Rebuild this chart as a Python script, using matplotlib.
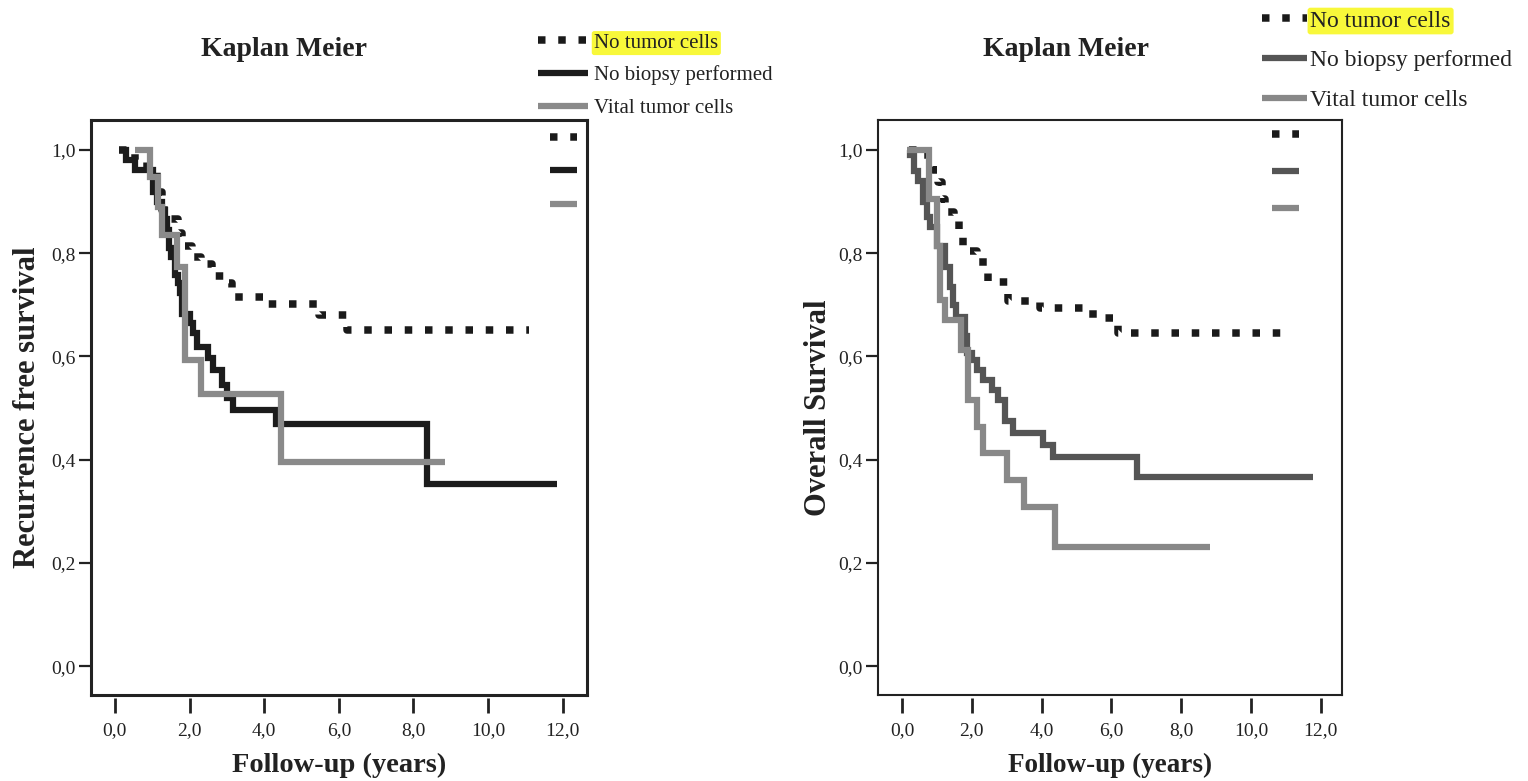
import matplotlib
matplotlib.use("Agg")
import matplotlib.pyplot as plt
from matplotlib.lines import Line2D

plt.rcParams["font.family"] = ["Liberation Serif", "DejaVu Serif"]

group_names = ["No tumor cells", "No biopsy performed", "Vital tumor cells"]

x_ticks = [0, 2, 4, 6, 8, 10, 12]
x_tick_labels = ["0,0", "2,0", "4,0", "6,0", "8,0", "10,0", "12,0"]
y_ticks = [0.0, 0.2, 0.4, 0.6, 0.8, 1.0]
y_tick_labels = ["0,0", "0,2", "0,4", "0,6", "0,8", "1,0"]

# recurrence free survival, step times (years) and survival fractions
rfs_no_tumor_t = [0.1, 0.55, 0.85, 1.12, 1.25, 1.47, 1.70, 1.80, 2.06, 2.32, 2.59, 2.99,
                  3.13, 4.02, 5.48, 6.21, 11.1]
rfs_no_tumor_s = [1.0, 0.98, 0.961, 0.919, 0.884, 0.866, 0.839, 0.814, 0.793, 0.779, 0.756,
                  0.742, 0.716, 0.701, 0.68, 0.652, 0.652]
rfs_no_biopsy_t = [0.1, 0.31, 0.53, 1.03, 1.12, 1.25, 1.34, 1.40, 1.45, 1.50, 1.60, 1.70,
                   1.75, 1.79, 2.0, 2.1, 2.19, 2.5, 2.64, 2.86, 3.0, 3.17, 4.31, 8.35, 11.84]
rfs_no_biopsy_s = [1.0, 0.98, 0.961, 0.919, 0.90, 0.884, 0.866, 0.845, 0.81, 0.793, 0.758,
                   0.742, 0.722, 0.683, 0.664, 0.645, 0.619, 0.596, 0.574, 0.545, 0.519,
                   0.497, 0.470, 0.353, 0.353]
rfs_vital_t = [0.55, 0.94, 1.16, 1.25, 1.67, 1.88, 2.32, 4.45, 8.85]
rfs_vital_s = [1.0, 0.948, 0.890, 0.835, 0.774, 0.593, 0.528, 0.396, 0.396]

# overall survival
os_no_tumor_t = [0.2, 0.55, 0.9, 1.04, 1.14, 1.23, 1.5, 1.64, 1.76, 2.14, 2.33, 2.47, 3.05,
                 3.95, 5.48, 6.2, 11.05]
os_no_tumor_s = [1.0, 0.99, 0.962, 0.938, 0.905, 0.88, 0.864, 0.835, 0.805, 0.793, 0.77,
                 0.744, 0.707, 0.693, 0.674, 0.645, 0.645]
os_no_biopsy_t = [0.18, 0.23, 0.33, 0.47, 0.61, 0.71, 0.80, 0.99, 1.23, 1.38, 1.47, 1.55,
                  1.80, 1.85, 2.0, 2.14, 2.33, 2.57, 2.76, 2.95, 3.19, 4.05, 4.34, 6.72, 11.79]
os_no_biopsy_s = [1.0, 0.99, 0.96, 0.94, 0.90, 0.87, 0.85, 0.813, 0.774, 0.735, 0.70, 0.677,
                  0.639, 0.606, 0.593, 0.574, 0.555, 0.535, 0.516, 0.474, 0.451, 0.428,
                  0.405, 0.366, 0.366]
os_vital_t = [0.15, 0.78, 1.0, 1.1, 1.23, 1.68, 1.90, 2.16, 2.31, 3.02, 3.50, 4.38, 8.83]
os_vital_s = [1.0, 0.905, 0.813, 0.709, 0.671, 0.612, 0.516, 0.464, 0.412, 0.36, 0.309,
              0.231, 0.231]

DOT = (0, (1.0, 1.7))
TXT = "#222222"

W, H = 1528, 781
fig = plt.figure(figsize=(W / 100, H / 100), dpi=100)
ax_l = fig.add_axes([91 / W, 1 - 695 / H, 496 / W, 575 / H])
ax_r = fig.add_axes([878 / W, 1 - 695 / H, 464 / W, 575 / H])


def km_panel(ax, curves, styles, ylabel, xlim, spine_w, lab_size, title_x, key_pos, key_gap):
    for (t, s), st in zip(curves, styles):
        ax.step(t, s, where="post", solid_joinstyle="miter", solid_capstyle="butt", **st)
    ax.set_xlim(*xlim)
    ax.set_ylim(-0.056, 1.058)
    for sp in ax.spines.values():
        sp.set_linewidth(spine_w)
        sp.set_color(TXT)
    ax.set_yticks(y_ticks)
    ax.set_yticklabels(y_tick_labels)
    ax.tick_params(axis="y", direction="out", length=9, width=1.6, pad=2,
                   labelsize=14, color=TXT, labelcolor=TXT)
    ax.set_xticks([])
    # x ticks sit a little below the frame
    sec = ax.secondary_xaxis(-0.006)
    sec.set_xticks(x_ticks)
    sec.set_xticklabels(x_tick_labels)
    sec.spines["bottom"].set_visible(False)
    sec.tick_params(direction="out", length=11, width=2, pad=6, labelsize=14,
                    color=TXT, labelcolor=TXT)
    ax.set_xlabel("Follow-up (years)", fontsize=lab_size, fontweight="bold", color=TXT,
                  va="center")
    ax.xaxis.set_label_coords(0.5, -0.122)
    ax.set_ylabel(ylabel, fontsize=22, fontweight="bold", color=TXT, va="center")
    ax.yaxis.set_label_coords(-0.128, 0.5)
    ax.text(title_x, 1.123, "Kaplan Meier", transform=ax.transAxes, ha="center",
            va="center", fontsize=20, fontweight="bold", color=TXT)
    handles = [Line2D([], [], solid_capstyle="butt", **st) for st in styles]
    # unlabeled key in the upper right corner of the frame
    ax.legend(handles, ["", "", ""], loc="upper left", bbox_to_anchor=key_pos,
              fontsize=14, handlelength=1.4, handletextpad=0, labelspacing=key_gap,
              borderpad=0, borderaxespad=0, frameon=False)
    return handles


left_styles = [dict(color="#1a1a1a", lw=5.4, ls=DOT),
               dict(color="#1c1c1c", lw=4.5),
               dict(color="#8a8a8a", lw=4.5)]
right_styles = [dict(color="#1a1a1a", lw=5.4, ls=DOT),
                dict(color="#555555", lw=4.5),
                dict(color="#888888", lw=4.5)]

h_l = km_panel(ax_l, [(rfs_no_tumor_t, rfs_no_tumor_s), (rfs_no_biopsy_t, rfs_no_biopsy_s),
                      (rfs_vital_t, rfs_vital_s)],
               left_styles, "Recurrence free survival", (-0.64, 12.65), 2.2, 20.5, 0.39,
               (0.925, 0.983), 0.82)
h_r = km_panel(ax_r, [(os_no_tumor_t, os_no_tumor_s), (os_no_biopsy_t, os_no_biopsy_s),
                      (os_vital_t, os_vital_s)],
               right_styles, "Overall Survival", (-0.69, 12.61), 1.5, 19.5, 0.405,
               (0.849, 0.988), 1.0)

leg_l = fig.legend(h_l, group_names, loc="upper left", bbox_to_anchor=(538 / W, 1 - 33 / H),
                   frameon=False, fontsize=15, handlelength=2.4, handletextpad=0.3,
                   labelspacing=0.62, borderpad=0, borderaxespad=0)
leg_r = fig.legend(h_r, group_names, loc="upper left", bbox_to_anchor=(1262 / W, 1 - 10 / H),
                   frameon=False, fontsize=17, handlelength=1.9, handletextpad=0.15,
                   labelspacing=0.78, borderpad=0, borderaxespad=0)
for leg in (leg_l, leg_r):
    for txt in leg.get_texts():
        txt.set_color(TXT)
    leg.get_texts()[0].set_bbox(dict(boxstyle="round,pad=0.12", fc="#f8f83a", ec="none"))

fig.savefig("out.png", dpi=100, facecolor="white")
